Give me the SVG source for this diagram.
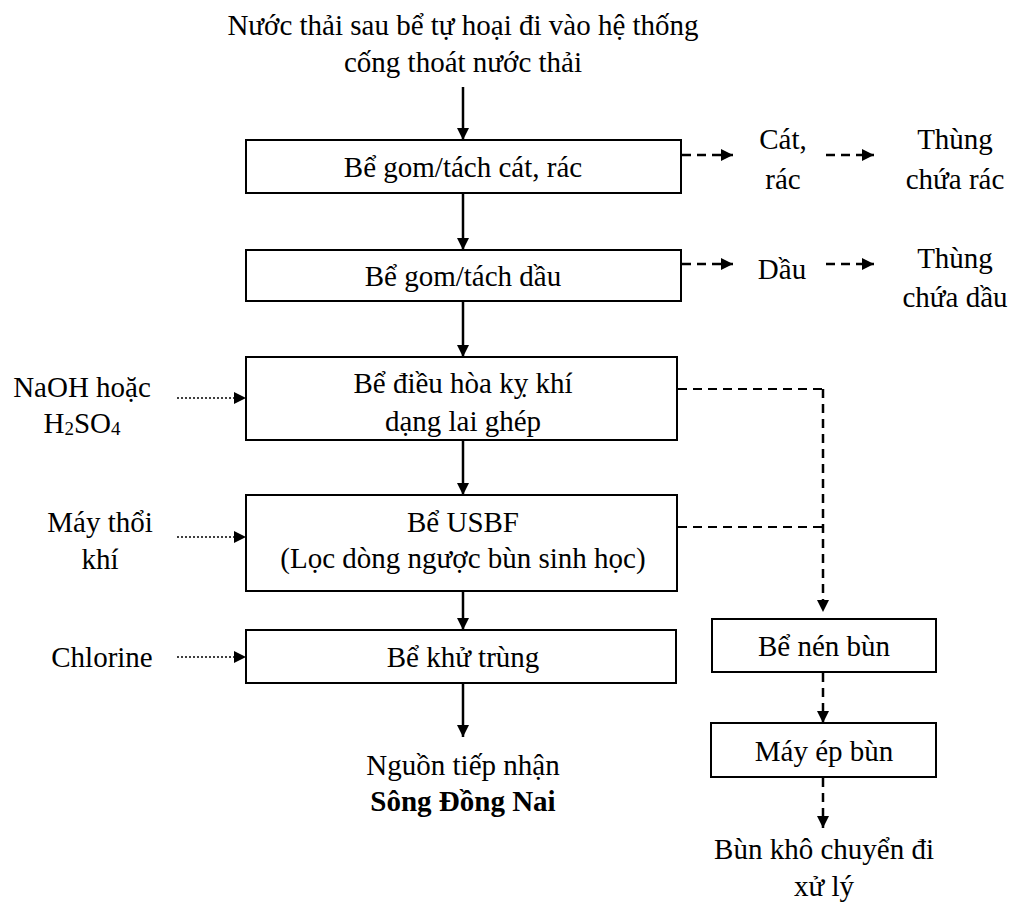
<svg xmlns="http://www.w3.org/2000/svg" width="1011" height="902" viewBox="0 0 1011 902">
<style>
text{font-family:"Liberation Serif","Times New Roman","DejaVu Serif",serif;font-size:29px;fill:#000;text-anchor:middle}
.b{font-weight:bold}
.box{fill:#fff;stroke:#000;stroke-width:2}
.solid{stroke:#000;stroke-width:2.5;fill:none}
.dash{stroke:#000;stroke-width:2.5;fill:none;stroke-dasharray:9,6}
.dot{stroke:#000;stroke-width:1.5;fill:none;stroke-dasharray:2,2}
</style>
<defs>
<marker id="ah" viewBox="0 0 10 10" refX="10" refY="5" markerWidth="12" markerHeight="12" markerUnits="userSpaceOnUse" orient="auto"><path d="M0,0 L10,5 L0,10 Z" fill="#000"/></marker>
</defs>
<rect width="1011" height="902" fill="#fff"/>
<g font-family="Liberation Serif, serif">
<g id="source"><text x="463" y="35">Nước thải sau bể tự hoại đi vào hệ thống</text><text x="463" y="72">cống thoát nước thải</text></g>
<g id="n1"><rect class="box" x="246" y="140" width="435" height="53"/><text x="463" y="177">Bể gom/tách cát, rác</text></g>
<g id="n2"><rect class="box" x="246" y="250" width="435" height="51"/><text x="463" y="286">Bể gom/tách dầu</text></g>
<g id="n3"><rect class="box" x="246" y="357" width="431" height="83"/><text x="463" y="393">Bể điều hòa kỵ khí</text><text x="463" y="431">dạng lai ghép</text></g>
<g id="n4"><rect class="box" x="246" y="495" width="431" height="96"/><text x="463" y="532">Bể USBF</text><text x="463" y="568">(Lọc dòng ngược bùn sinh học)</text></g>
<g id="n5"><rect class="box" x="246" y="630" width="430" height="53"/><text x="463" y="667">Bể khử trùng</text></g>
<g id="out"><text x="463" y="775">Nguồn tiếp nhận</text><text class="b" x="463" y="811">Sông Đồng Nai</text></g>
<g id="sand"><text x="783" y="149">Cát,</text><text x="783" y="189">rác</text></g>
<g id="bin1"><text x="955" y="149">Thùng</text><text x="955" y="189">chứa rác</text></g>
<g id="oil"><text x="782" y="279">Dầu</text></g>
<g id="bin2"><text x="955" y="268">Thùng</text><text x="955" y="307">chứa dầu</text></g>
<g id="naoh"><text x="82" y="397">NaOH hoặc</text><text x="82" y="433">H<tspan font-size="19" dy="2">2</tspan><tspan dy="-2">SO</tspan><tspan font-size="19" dy="2">4</tspan></text></g>
<g id="blower"><text x="100" y="532">Máy thổi</text><text x="100" y="569">khí</text></g>
<g id="chlorine"><text x="102" y="667">Chlorine</text></g>
<g id="n6"><rect class="box" x="712" y="619" width="224" height="53"/><text x="824" y="656">Bể nén bùn</text></g>
<g id="n7"><rect class="box" x="711" y="723" width="225" height="54"/><text x="824" y="761">Máy ép bùn</text></g>
<g id="sludge"><text x="824" y="859">Bùn khô chuyển đi</text><text x="824" y="896">xử lý</text></g>
</g>
<g id="connectors">
<line class="solid" x1="463" y1="87" x2="463" y2="140" marker-end="url(#ah)"/>
<line class="solid" x1="463" y1="194" x2="463" y2="250" marker-end="url(#ah)"/>
<line class="solid" x1="463" y1="301" x2="463" y2="357" marker-end="url(#ah)"/>
<line class="solid" x1="463" y1="441" x2="463" y2="495" marker-end="url(#ah)"/>
<line class="solid" x1="463" y1="592" x2="463" y2="630" marker-end="url(#ah)"/>
<line class="solid" x1="463" y1="684" x2="463" y2="737" marker-end="url(#ah)"/>
<line class="dash" x1="682" y1="155" x2="733" y2="155" marker-end="url(#ah)"/>
<line class="dash" x1="826" y1="155" x2="874" y2="155" marker-end="url(#ah)"/>
<line class="dash" x1="682" y1="264" x2="733" y2="264" marker-end="url(#ah)"/>
<line class="dash" x1="826" y1="264" x2="874" y2="264" marker-end="url(#ah)"/>
<line class="dot" x1="177" y1="398" x2="246" y2="398" marker-end="url(#ah)"/>
<line class="dot" x1="177" y1="537" x2="246" y2="537" marker-end="url(#ah)"/>
<line class="dot" x1="177" y1="657" x2="246" y2="657" marker-end="url(#ah)"/>
<polyline class="dash" style="stroke-width:1.8" points="678,389 823,389"/>
<polyline class="dash" style="stroke-width:1.8" points="678,527 823,527"/>
<line class="dash" x1="823" y1="389" x2="823" y2="612" marker-end="url(#ah)"/>
<line class="dash" x1="823" y1="673" x2="823" y2="723" marker-end="url(#ah)"/>
<line class="dash" x1="823" y1="778" x2="823" y2="828" marker-end="url(#ah)"/>
</g>
</svg>
